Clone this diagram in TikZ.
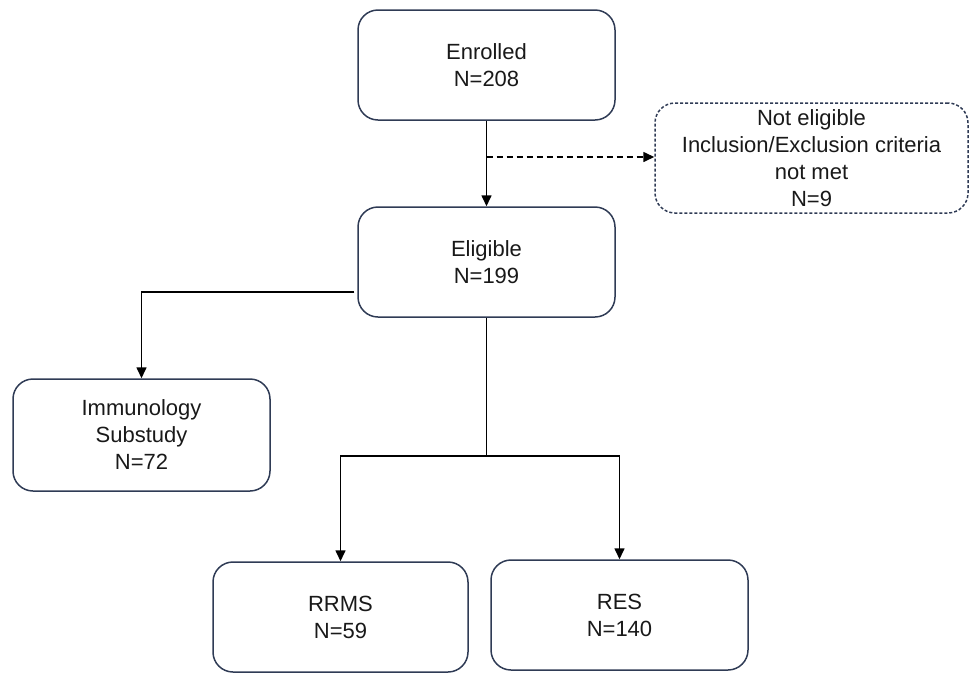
\documentclass[tikz,border=0pt]{standalone}
\usepackage{fontspec}
\setmainfont{Liberation Sans}
\usetikzlibrary{arrows.meta}
\definecolor{boxline}{HTML}{2F3B55}
\tikzset{
  box/.style={draw=boxline, line width=1.5pt, rounded corners=20pt, align=center,
    font=\fontsize{22}{27}\selectfont, inner sep=0pt, text=black!90},
  dbox/.style={box, dashed, dash pattern=on 3pt off 2pt},
  conn/.style={draw=black, line width=1.6pt},
  arr/.style={conn, -{Triangle[width=10pt,length=11pt]}}
}
\begin{document}
\begin{tikzpicture}[x=1pt,y=-1pt]
\useasboundingbox (0,0) rectangle (970,673);
\node[box, minimum width=257pt, minimum height=110pt] (enr) at (486.5,65) {Enrolled\\N=208};
\node[dbox, minimum width=313pt, minimum height=110pt] (ne) at (811.5,158) {Not eligible\\Inclusion/Exclusion criteria\\not met\\N=9};
\node[box, minimum width=257pt, minimum height=110pt] (eli) at (486.5,262) {Eligible\\N=199};
\node[box, minimum width=257pt, minimum height=112pt] (imm) at (141.5,435) {Immunology\\Substudy\\N=72};
\node[box, minimum width=255pt, minimum height=110pt] (rrms) at (340.5,617) {RRMS\\N=59};
\node[box, minimum width=257pt, minimum height=110pt] (res) at (619.5,615) {RES\\N=140};
\coordinate (dj) at (486.5,157);
\coordinate (ij) at ([xshift=-3pt,yshift=-30pt]eli.west);
\coordinate (bj) at (486.5,456);
\draw[arr] (enr.south) -- (eli.north);
\draw[arr, dashed, dash pattern=on 6pt off 4pt] (dj) -- (dj -| ne.west);
\draw[arr] (ij) -| (imm.north);
\draw[conn] (eli.south) -- (bj);
\draw[arr] (bj) -| (rrms.north);
\draw[arr] (bj) -| (res.north);
\end{tikzpicture}
\end{document}
